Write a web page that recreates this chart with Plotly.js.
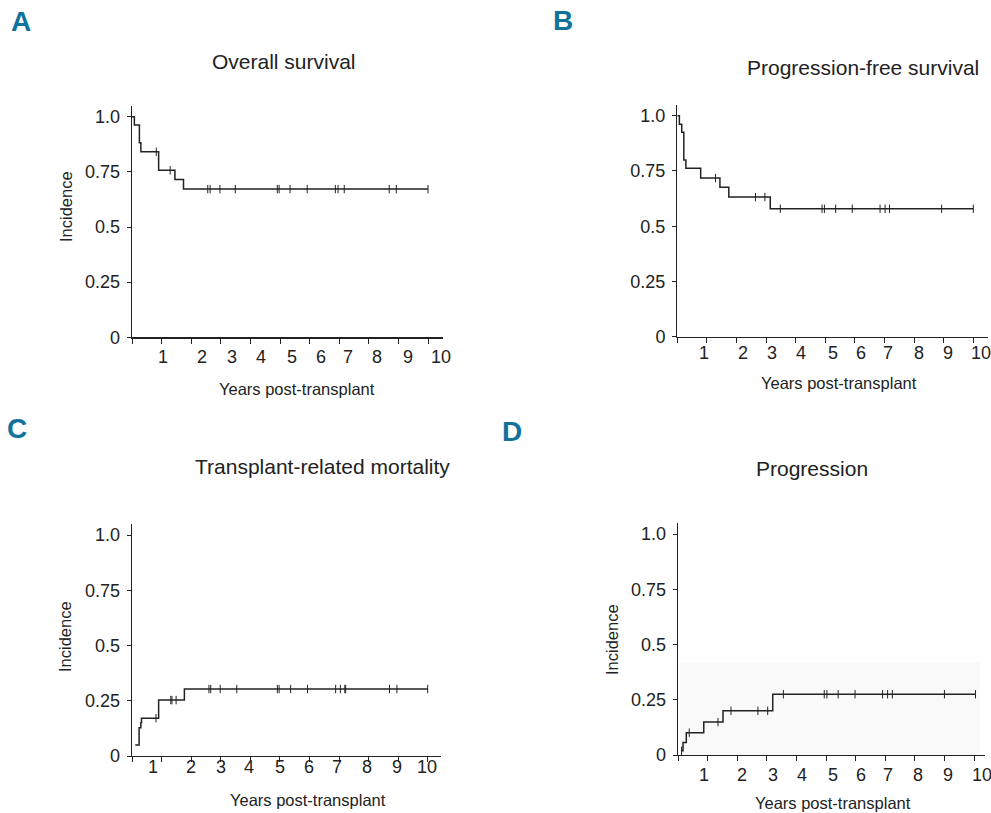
<!DOCTYPE html>
<html>
<head>
<meta charset="utf-8">
<script src="https://cdn.plot.ly/plotly-3.0.1.min.js"></script>
<style>html,body{margin:0;padding:0;background:#fff;}#chart{width:991px;height:813px;}</style>
</head>
<body>
<div id="chart"></div>
<script>
// ---------- DATA ----------
// Panel A: Overall survival (step times in years, survival probability)
const timesA = [0, 0.08, 0.25, 0.30, 0.90, 1.45, 1.74, 10.0];
const valuesA = [1.0, 0.963, 0.882, 0.841, 0.757, 0.715, 0.672, 0.672];
const censorA = [0.82, 1.29, 2.56, 2.64, 2.97, 3.49, 4.91, 4.97, 5.34, 5.92, 6.87, 6.96, 7.17, 8.69, 8.93, 10.0];

// Panel B: Progression-free survival
const timesB = [0, 0.07, 0.15, 0.22, 0.29, 0.79, 1.44, 1.74, 3.14, 10.0];
const valuesB = [1.0, 0.962, 0.925, 0.80, 0.762, 0.718, 0.676, 0.632, 0.579, 0.579];
const censorB = [1.29, 2.64, 2.96, 3.48, 4.89, 4.97, 5.35, 5.91, 6.85, 7.02, 7.17, 8.93, 10.0];

// Panel C: Transplant-related mortality (cumulative incidence)
const timesC = [0.11, 0.24, 0.30, 0.32, 0.90, 1.77, 9.99];
const valuesC = [0.05, 0.128, 0.15, 0.171, 0.253, 0.303, 0.303];
const censorC = [0.81, 1.31, 1.35, 1.49, 2.60, 2.66, 2.98, 3.54, 4.91, 4.97, 5.36, 5.93, 6.88, 7.04, 7.19, 7.22, 8.70, 8.95, 9.99];

// Panel D: Progression (cumulative incidence)
const timesD = [0.10, 0.17, 0.28, 0.87, 1.52, 3.20, 10.05];
const valuesD = [0.019, 0.057, 0.101, 0.149, 0.200, 0.275, 0.275];
const censorD = [0.12, 0.38, 1.35, 1.79, 2.70, 3.03, 3.56, 4.94, 5.03, 5.41, 5.98, 6.91, 7.08, 7.24, 9.00, 10.05];

// Axis ticks and labels
const xTickVals = [0, 1, 2, 3, 4, 5, 6, 7, 8, 9, 10];
const xTickText = ['1', '2', '3', '4', '5', '6', '7', '8', '9', '10'];
const yTickVals = [0, 0.25, 0.5, 0.75, 1.0];
const yTickText = ['0', '0.25', '0.5', '0.75', '1.0'];
// where the year labels sit under each panel's axis (they drift from the tick marks in the figure)
const labelPosA = [1.05, 2.36, 3.38, 4.36, 5.41, 6.39, 7.30, 8.28, 9.32, 10.44];
const labelPosB = [0.91, 2.21, 3.21, 4.17, 5.26, 6.22, 7.13, 8.15, 9.16, 10.27];
const labelPosC = [0.72, 2.00, 3.02, 3.96, 4.99, 5.97, 6.93, 7.95, 8.94, 9.98];
const labelPosD = [0.89, 2.17, 3.22, 4.20, 5.25, 6.19, 7.10, 8.12, 9.13, 10.28];

const panelTitles = ['Overall survival', 'Progression-free survival', 'Transplant-related mortality', 'Progression'];
const panelLetters = ['A', 'B', 'C', 'D'];
const xTitle = 'Years post-transplant';
const yTitle = 'Incidence';

// ---------- STYLE / LAYOUT ----------
const W = 991, H = 813;
const FONT = 'Liberation Sans, Arial, sans-serif';
const INK = '#222222';
const px = v => v / W;
const py = v => 1 - v / H;

const panels = [
  {times: timesA, values: valuesA, censor: censorA, labelPos: labelPosA,
   dx: [132, 442.8], dy: [337.3, 105.7], xmax: 10.5, labelY: 357,
   title: [284, 62], letter: [21, 22], xt: [297, 389], yt: [66, 207]},
  {times: timesB, values: valuesB, censor: censorB, labelPos: labelPosB,
   dx: [677.3, 988.1], dy: [336.7, 104.7], xmax: 10.5, labelY: 353,
   title: [863, 68], letter: [563, 20], xt: [839, 383], yt: null},
  {times: timesC, values: valuesC, censor: censorC, labelPos: labelPosC,
   dx: [132, 441.3], dy: [756, 524], xmax: 10.45, labelY: 767,
   title: [322, 466], letter: [17, 428], xt: [308, 800], yt: [65, 637]},
  {times: timesD, values: valuesD, censor: censorD, labelPos: labelPosD,
   dx: [678, 985], dy: [755, 523], xmax: 10.37, labelY: 775,
   title: [812, 468], letter: [512, 431], xt: [833, 803], yt: [612, 640]}
];

function stepValue(times, values, t) {
  let v = values[0];
  for (let i = 0; i < times.length; i++) { if (times[i] <= t + 1e-9) v = values[i]; }
  return v;
}

const traces = [];
const layout = {
  width: W, height: H,
  margin: {l: 0, r: 0, t: 0, b: 0},
  paper_bgcolor: '#ffffff', plot_bgcolor: 'rgba(0,0,0,0)',
  showlegend: false,
  font: {family: FONT, color: INK},
  annotations: [], shapes: []
};

panels.forEach((p, i) => {
  const n = i + 1;
  const xa = 'x' + (n === 1 ? '' : n), ya = 'y' + (n === 1 ? '' : n);
  const xKey = 'xaxis' + (n === 1 ? '' : n), yKey = 'yaxis' + (n === 1 ? '' : n);

  traces.push({
    type: 'scatter', mode: 'lines', x: p.times, y: p.values,
    xaxis: xa, yaxis: ya, line: {shape: 'hv', color: INK, width: 1.5},
    hoverinfo: 'skip', cliponaxis: false
  });
  traces.push({
    type: 'scatter', mode: 'markers', x: p.censor,
    y: p.censor.map(t => stepValue(p.times, p.values, t)),
    xaxis: xa, yaxis: ya,
    marker: {symbol: 'line-ns-open', size: 6, color: INK, line: {color: INK, width: 1}},
    hoverinfo: 'skip', cliponaxis: false
  });

  layout[xKey] = {
    domain: [px(p.dx[0]), px(p.dx[1])], range: [0, p.xmax], anchor: ya,
    showline: true, linecolor: INK, linewidth: 1.3,
    ticks: 'outside', ticklen: 5, tickwidth: 1, tickcolor: INK,
    tickvals: xTickVals, showticklabels: false,
    showgrid: false, zeroline: false, fixedrange: true
  };
  layout[yKey] = {
    domain: [py(p.dy[0]), py(p.dy[1])], range: [0, 1.05], anchor: xa,
    showline: true, linecolor: INK, linewidth: 1.3,
    ticks: 'outside', ticklen: 4, tickwidth: 1, tickcolor: INK,
    tickvals: yTickVals, ticktext: yTickText,
    tickfont: {family: FONT, size: 18, color: INK}, ticklabelstandoff: 3,
    showgrid: false, zeroline: false, fixedrange: true
  };

  // year labels under the x axis, placed at their own positions along the axis
  p.labelPos.forEach((pos, k) => {
    layout.annotations.push({
      text: xTickText[k], xref: xa, yref: 'paper', x: pos, y: py(p.labelY),
      xanchor: 'center', yanchor: 'middle', showarrow: false,
      font: {family: FONT, size: 18, color: INK}
    });
  });

  layout.annotations.push({
    text: panelTitles[i], xref: 'paper', yref: 'paper',
    x: px(p.title[0]), y: py(p.title[1]), xanchor: 'center', yanchor: 'middle',
    showarrow: false, font: {family: FONT, size: 21, color: INK}
  });
  layout.annotations.push({
    text: '<b>' + panelLetters[i] + '</b>', xref: 'paper', yref: 'paper',
    x: px(p.letter[0]), y: py(p.letter[1]), xanchor: 'center', yanchor: 'middle',
    showarrow: false, font: {family: FONT, size: 28, color: '#11729b'}
  });
  layout.annotations.push({
    text: xTitle, xref: 'paper', yref: 'paper',
    x: px(p.xt[0]), y: py(p.xt[1]), xanchor: 'center', yanchor: 'middle',
    showarrow: false, font: {family: FONT, size: 16.5, color: INK}
  });
  if (p.yt) {
    layout.annotations.push({
      text: yTitle, xref: 'paper', yref: 'paper', textangle: -90,
      x: px(p.yt[0]), y: py(p.yt[1]), xanchor: 'center', yanchor: 'middle',
      showarrow: false, font: {family: FONT, size: 16.5, color: INK}
    });
  }
});

// faint shaded backdrop behind the progression curve (panel D)
layout.shapes.push({
  type: 'rect', xref: 'x4', yref: 'y4', x0: 0.05, x1: 10.2, y0: 0, y1: 0.42,
  fillcolor: '#f9f9f9', line: {width: 0}, layer: 'below'
});

Plotly.newPlot('chart', traces, layout, {displayModeBar: false, staticPlot: true});
</script>
</body>
</html>
